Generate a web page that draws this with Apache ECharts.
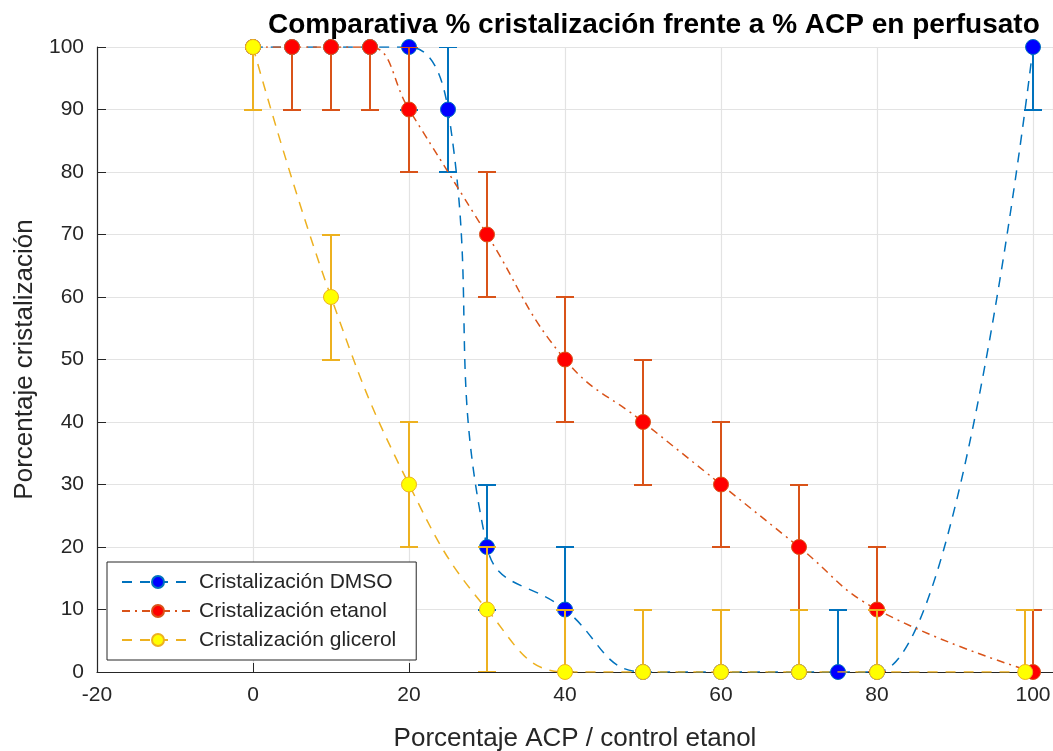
<!DOCTYPE html>
<html>
<head>
<meta charset="utf-8">
<script src="https://cdn.jsdelivr.net/npm/echarts@6/dist/echarts.min.js"></script>
<style>html,body{margin:0;padding:0;background:#fff}#c{width:1053px;height:751px}</style>
</head>
<body>
<div id="c"></div>
<script>
// ---- data ----
const titleText = 'Comparativa % cristalización frente a % ACP en perfusato';
const xName = 'Porcentaje ACP / control etanol';
const yName = 'Porcentaje cristalización';

const dmsoX = [0, 5, 10, 15, 20, 25, 30, 40, 50, 60, 70, 75, 80, 100];
const dmsoY = [100, 100, 100, 100, 100, 90, 20, 10, 0, 0, 0, 0, 0, 100];
const dmsoErr = [10, 10, 10, 10, 10, 10, 10, 10, 10, 10, 10, 10, 10, 10];

const etanolX = [0, 5, 10, 15, 20, 30, 40, 50, 60, 70, 80, 100];
const etanolY = [100, 100, 100, 100, 90, 70, 50, 40, 30, 20, 10, 0];
const etanolErr = [10, 10, 10, 10, 10, 10, 10, 10, 10, 10, 10, 10];

const glicerolX = [0, 10, 20, 30, 40, 50, 60, 70, 80, 99];
const glicerolY = [100, 60, 30, 10, 0, 0, 0, 0, 0, 0];
const glicerolErr = [10, 10, 10, 10, 10, 10, 10, 10, 10, 10];

const names = ['Cristalización DMSO', 'Cristalización etanol', 'Cristalización glicerol'];
const xTicks = [-20, 0, 20, 40, 60, 80, 100];
const yTicks = [0, 10, 20, 30, 40, 50, 60, 70, 80, 90, 100];

// ---- build ----
const FONT = '"Liberation Sans", Arial, Helvetica, sans-serif';
function pts(xs, ys) { return xs.map((x, i) => [x, ys[i]]); }
function errs(xs, ys, es) { return xs.map((x, i) => [x, ys[i] - es[i], ys[i] + es[i]]); }

function errSeries(data, color, z) {
  return {
    type: 'custom', z: z, clip: true, silent: true,
    data: data, encode: { x: 0, y: [1, 2] },
    renderItem: function (params, api) {
      const x = api.value(0), lo = api.value(1), hi = api.value(2);
      const a = api.coord([x, lo]), b = api.coord([x, hi]);
      const px = Math.round(a[0]);
      const ya = Math.round(a[1]), yb = Math.round(b[1]);
      const hw = 9;
      const st = { stroke: color, lineWidth: 2 };
      return {
        type: 'group', children: [
          { type: 'line', shape: { x1: px, y1: ya, x2: px, y2: yb }, style: st },
          { type: 'line', shape: { x1: px - hw, y1: ya, x2: px + hw, y2: ya }, style: st },
          { type: 'line', shape: { x1: px - hw, y1: yb, x2: px + hw, y2: yb }, style: st }
        ]
      };
    }
  };
}

function lineSeries(name, data, lineColor, fill, dash, z) {
  return {
    name: name, type: 'line', z: z, data: data, smooth: 0.45,
    symbol: 'circle', symbolSize: 15, clip: true,
    lineStyle: { color: lineColor, width: 1.5, type: dash },
    itemStyle: { color: fill, borderColor: lineColor, borderWidth: 1 },
    emphasis: { disabled: true }
  };
}

const blueLine = '#0072BD', redLine = '#D95319', yelLine = '#EDB120';

const chart = echarts.init(document.getElementById('c'), null, { renderer: 'canvas' });
chart.setOption({
  backgroundColor: '#ffffff',
  animation: false,
  title: {
    text: titleText, left: 263, top: 6,
    textStyle: { fontFamily: FONT, fontSize: 28, fontWeight: 'bold', color: '#000' }
  },
  legend: {
    data: names, orient: 'vertical', left: 107, top: 562,
    itemWidth: 72, itemHeight: 15, itemGap: 7,
    padding: [9, 20, 9, 14],
    borderColor: '#262626', borderWidth: 1, backgroundColor: '#fff',
    textStyle: { fontFamily: FONT, fontSize: 21, color: '#262626', lineHeight: 22 }
  },
  grid: { left: 97, top: 47, bottom: 79, right: 0, containLabel: false, outerBoundsMode: 'none' },
  xAxis: {
    type: 'value', min: -20, max: 102.56, interval: 20,
    name: xName, nameLocation: 'middle', nameGap: 54,
    nameTextStyle: { fontFamily: FONT, fontSize: 26, color: '#262626' },
    axisLine: { show: true, onZero: false, lineStyle: { color: '#262626', width: 1.2 } },
    axisTick: { show: true, inside: true, length: 9, lineStyle: { color: '#262626' } },
    axisLabel: { fontFamily: FONT, fontSize: 21, color: '#262626', margin: 13,
      formatter: v => (xTicks.indexOf(v) >= 0 ? String(v) : '') },
    splitLine: { show: true, lineStyle: { color: '#e3e3e3', width: 1.2 } }
  },
  yAxis: {
    type: 'value', min: 0, max: 100, interval: 10,
    name: yName, nameLocation: 'middle', nameGap: 48, nameRotate: 90,
    nameTextStyle: { fontFamily: FONT, fontSize: 26, color: '#262626' },
    axisLine: { show: true, onZero: false, lineStyle: { color: '#262626', width: 1.2 } },
    axisTick: { show: true, inside: true, length: 9, lineStyle: { color: '#262626' } },
    axisLabel: { fontFamily: FONT, fontSize: 21, color: '#262626', margin: 13,
      formatter: v => (yTicks.indexOf(v) >= 0 ? String(v) : '') },
    splitLine: { show: true, lineStyle: { color: '#e3e3e3', width: 1.2 } }
  },
  series: [
    errSeries(errs(dmsoX, dmsoY, dmsoErr), blueLine, 2),
    lineSeries(names[0], pts(dmsoX, dmsoY), blueLine, '#0000FF', [10, 8], 3),
    errSeries(errs(etanolX, etanolY, etanolErr), redLine, 4),
    lineSeries(names[1], pts(etanolX, etanolY), redLine, '#FF0000', [8, 5, 2, 5], 5),
    errSeries(errs(glicerolX, glicerolY, glicerolErr), yelLine, 6),
    lineSeries(names[2], pts(glicerolX, glicerolY), yelLine, '#FFFF00', [10, 8], 7)
  ]
});
</script>
</body>
</html>
